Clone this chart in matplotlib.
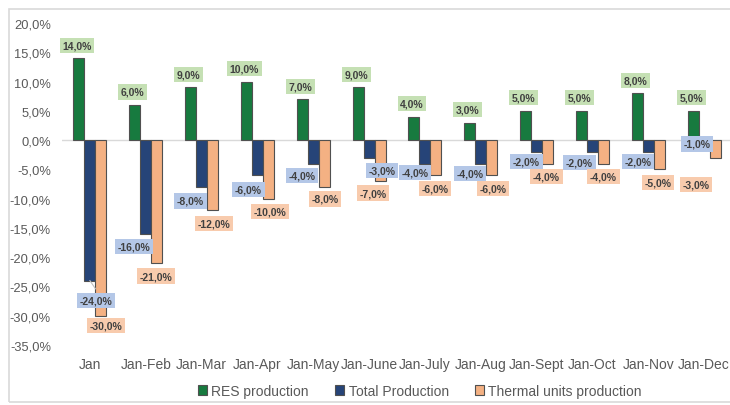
import numpy as np
import matplotlib.pyplot as plt
from matplotlib.patches import Rectangle

# data (percent change)
periods = ['Jan', 'Jan-Feb', 'Jan-Mar', 'Jan-Apr', 'Jan-May', 'Jan-June',
           'Jan-July', 'Jan-Aug', 'Jan-Sept', 'Jan-Oct', 'Jan-Nov', 'Jan-Dec']
res_production = [14, 6, 9, 10, 7, 9, 4, 3, 5, 5, 8, 5]
total_production = [-24, -16, -8, -6, -4, -3, -4, -4, -2, -2, -2, -1]
thermal_production = [-30, -21, -12, -10, -8, -7, -6, -6, -4, -4, -5, -3]
series_names = ['RES production', 'Total Production', 'Thermal units production']

# label nudges in pixels (dx, dy) relative to bar end, as placed in the original
res_offsets = [(-2, 13)] * 12
total_offsets = [(6, -20), (-12, -13), (-11, -14), (-9, -14), (-11, -12), (13, -13),
                 (-10, -9), (-11, -10), (-10, -10), (-13, -11), (-10, -10), (-7, 2)]
thermal_offsets = [(5, -10), (-1, -13), (1, -13), (2, -13), (1, -12), (-7, -12),
                   (-1, -13), (1, -13), (-1, -13), (0, -13), (-1, -13), (-19, -27)]

colors = ['#177A3F', '#264478', '#F4B183']
label_bg = ['#C5E0B4', '#B4C7E7', '#F8CBAD']
txt_gray = '#595959'

plt.rcParams['font.family'] = ['Liberation Sans', 'DejaVu Sans']

fig = plt.figure(figsize=(7.3, 4.06), dpi=100)
fig.patches.append(Rectangle((9 / 730, 3 / 406), 1.0, 393 / 406, transform=fig.transFigure,
                             fill=False, edgecolor='#D9D9D9', linewidth=1.2))
ax = fig.add_axes([62 / 730, 60 / 406, 670 / 730, 322 / 406])

x = np.arange(len(periods))
w = 0.197
all_series = [res_production, total_production, thermal_production]
all_offsets = [res_offsets, total_offsets, thermal_offsets]

bars = []
for k, (vals, name) in enumerate(zip(all_series, series_names)):
    pos = x + (k - 1) * w
    b = ax.bar(pos, vals, width=w, color=colors[k], edgecolor='#505050',
               linewidth=0.8, label=name, zorder=3)
    bars.append(b)
    for xi, v, (dx, dy) in zip(pos, vals, all_offsets[k]):
        ax.annotate(f'{v:.1f}%'.replace('.', ','), xy=(xi, v), xytext=(dx, dy),
                    textcoords='offset pixels', ha='center', va='center',
                    fontsize=7.5, fontweight='bold', color='#404040', zorder=5,
                    bbox=dict(boxstyle='square,pad=0.25', fc=label_bg[k], ec='none'))

# leader line for the first total production label
ax.plot([x[0], x[0] + 0.1], [total_production[0], total_production[0] - 1.4],
        color='#BFBFBF', lw=0.8, zorder=4)

ax.axhline(0, color='#D9D9D9', lw=1, zorder=2)
ax.set_xlim(-0.5, len(periods) - 0.5)
ax.set_ylim(-35, 20)
yt = np.arange(-35, 21, 5)
ax.set_yticks(yt)
ax.set_yticklabels([f'{t:.1f}%'.replace('.', ',') for t in yt], color=txt_gray, fontsize=9.3)
ax.set_xticks(x)
ax.set_xticklabels(periods, color=txt_gray, fontsize=10)
ax.tick_params(length=0, axis='both')
ax.tick_params(axis='x', pad=9)
ax.tick_params(axis='y', pad=8)
for s in ax.spines.values():
    s.set_visible(False)

fig.legend(handles=bars, labels=series_names, loc='center', ncol=3,
           bbox_to_anchor=(420 / 730, 14 / 406), frameon=False, fontsize=10,
           labelcolor=txt_gray, handlelength=0.65, handleheight=0.65,
           handletextpad=0.3, columnspacing=1.9)

fig.savefig('out.png', dpi=100)
